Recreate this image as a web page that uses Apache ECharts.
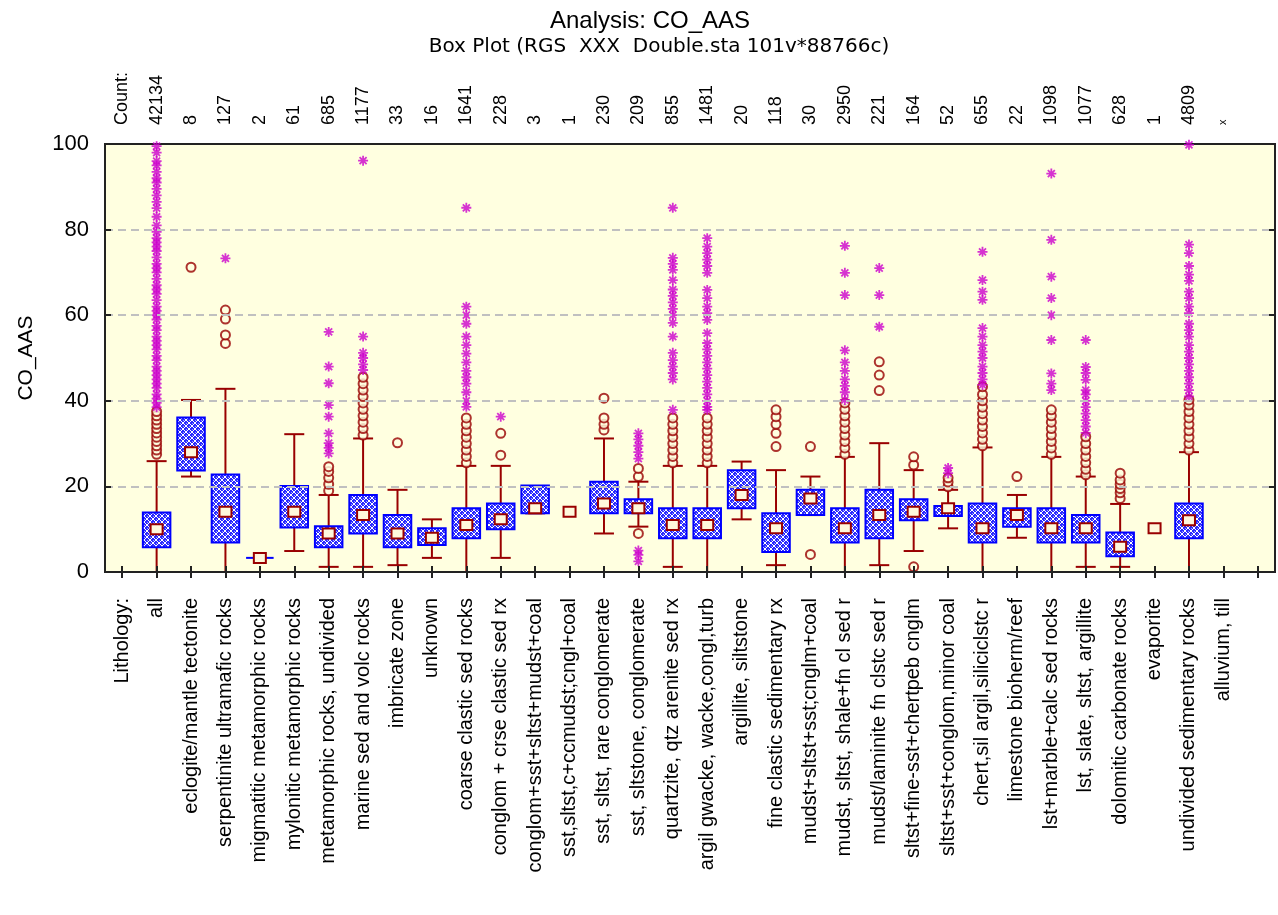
<!DOCTYPE html>
<html><head><meta charset="utf-8">
<script src="https://cdn.jsdelivr.net/npm/echarts@6/dist/echarts.min.js"></script>
<style>html,body{margin:0;padding:0;background:#fff}#chart{width:1278px;height:915px}</style>
</head><body><div id="chart"></div>
<script>
const categories = ['all','eclogite/mantle tectonite','serpentinite ultramafic rocks','migmatitic metamorphic rocks','mylonitic metamorphic rocks','metamorphic rocks, undivided','marine sed and volc rocks','imbricate zone','unknown','coarse clastic sed rocks','conglom + crse clastic sed rx','conglom+sst+sltst+mudst+coal','sst,sltst,c+ccmudst;cngl+coal','sst, sltst, rare conglomerate','sst, sltstone, conglomerate','quartzite, qtz arenite sed rx','argil gwacke, wacke,congl,turb','argillite, siltstone','fine clastic sedimentary rx','mudst+sltst+sst;cnglm+coal','mudst, sltst, shale+fn cl sed r','mudst/laminite fn clstc sed r','sltst+fine-sst+chertpeb cnglm','sltst+sst+conglom,minor coal','chert,sil argil,siliciclstc r','limestone bioherm/reef','lst+marble+calc sed rocks','lst, slate, sltst, argillite','dolomitic carbonate rocks','evaporite','undivided sedimentary rocks','alluvium, till'];
const counts = ['42134','8','127','2','61','685','1177','33','16','1641','228','3','1','230','209','855','1481','20','118','30','2950','221','164','52','655','22','1098','1077','628','1','4809','x'];
const whiskerLow  = [0,22.3,0,3.3,4.9,1.2,1.2,1.6,3.3,0,3.3,13.7,14.1,9.0,10.6,1.2,0,12.3,1.6,13.3,0,1.6,4.9,10.2,0,8.0,0,1.2,1.2,10.2,0,null];
const q1          = [5.8,23.7,6.9,3.3,10.4,5.8,9.0,5.8,6.3,7.9,10.0,13.7,null,13.7,13.7,7.9,7.9,14.9,4.7,13.3,6.9,7.9,12.1,13.1,6.9,10.6,6.9,6.9,3.7,null,7.9,null];
const median      = [10.0,28.0,14.1,3.3,14.1,9.0,13.3,9.0,8.0,11.0,12.3,14.9,14.1,16.0,14.9,11.0,11.0,18.0,10.2,17.2,10.2,13.3,14.1,14.9,10.2,13.3,10.2,10.2,5.9,10.2,12.1,null];
const q3          = [13.9,36.1,22.8,3.3,20.1,10.7,18.0,13.3,10.2,14.9,16.0,20.2,null,21.1,17.0,14.9,14.9,23.8,13.7,19.2,14.9,19.2,17.0,15.4,16.0,14.9,14.9,13.3,9.2,null,16.0,null];
const whiskerHigh = [25.9,40.2,42.8,3.3,32.2,18.0,31.2,19.2,12.3,24.8,24.8,20.2,14.1,31.2,21.1,24.8,24.8,25.8,23.8,22.3,26.9,30.1,23.8,19.2,29.1,18.0,26.9,22.3,15.9,10.2,28.0,null];
const outliers = [
  [27.5,28.5,29.5,30.5,31.5,32.5,33.5,34.5,35.5,36.5,37.5],
  [71.2],
  [53.4,55.4,59.1,61.2],
  [],
  [],
  [19.0,20.5,22.0,23.5,24.6],
  [32.0,33.5,35.0,36.5,38.0,39.5,41.0,42.5,44.0,45.5],
  [30.2],
  [],
  [25.5,27.0,28.5,30.0,31.5,33.0,34.5,36.0],
  [27.3,32.4],
  [],
  [],
  [33.2,34.5,36.0,40.6],
  [22.3,24.2,9.0],
  [25.5,27.0,28.5,30.0,31.5,33.0,34.5,36.0],
  [25.5,27.0,28.5,30.0,31.5,33.0,34.5,36.0],
  [],
  [29.3,32.4,34.5,36.3,37.9],
  [29.3,4.1],
  [27.5,29.0,30.5,32.0,33.5,35.0,36.5,38.0,39.5],
  [42.4,46.0,49.1],
  [25.0,26.9,1.2],
  [19.9,21.0,22.0],
  [29.5,31.0,32.5,34.0,35.5,37.0,38.5,40.0,41.5,43.3],
  [22.3],
  [27.5,29.0,30.5,32.0,33.5,35.0,36.5,37.9],
  [22.7,24.0,25.5,27.0,28.5,30.0,31.6],
  [17.2,18.5,19.5,20.5,21.5,23.1],
  [],
  [28.5,30.0,31.5,33.0,34.5,36.0,37.5,39.0,40.2],
  []
];
const extremes = [
  [38.5,39.5,40.5,41.5,43,44,45,46,47,48,49.5,50.5,52,53,54,55,56.5,57.5,59,60,61,62,63.5,65,66,67,68.5,70,71,72,73.5,75,76,77,78,79.5,81,83,85,86.5,88,89.5,91,92,93.5,95,96,98,99.5],
  [],
  [73.3],
  [],
  [],
  [27.7,29.0,30.1,32.4,36.3,39.0,44.1,48.0,56.1],
  [47.2,48.5,50.0,51.2,55.0,96.1],
  [],
  [],
  [38.6,40,42,44,45.5,47,49,51,53,55,58,60,62,85.1],
  [36.3],
  [],
  [],
  [],
  [26.5,28.0,29.5,31.0,32.4,5.0,4.0,2.5],
  [37.9,45,46.5,48,49.5,51.2,55,58.2,60,61.5,63,64.5,66,68.2,70.6,72,73.4,85.1],
  [37.9,38.6,40,41.5,43,44.5,46,47.5,49,50.5,52,53.5,55.8,58.9,60.5,62,64,65.9,69.9,71.5,73,74.5,76,78],
  [],
  [],
  [],
  [40.2,42,43.5,45,47,49,51.8,64.7,69.9,76.2],
  [57.3,64.7,71.0],
  [],
  [23.1,24.3],
  [43.7,45,46.5,48,50,51.5,53,55,57,63.6,65.5,68.2,74.8],
  [],
  [42.5,44,46.4,54.2,60.0,64.0,69.0,77.6,93.1],
  [32.5,34,35.5,37,38.5,40,41.5,42.5,44.9,46.5,47.9,54.2],
  [],
  [],
  [41,42.5,44,45.5,47,48.5,50,51.5,53,55,56.5,58,60.5,62,64,65.5,68,69.5,71.5,74.5,76.5,99.8],
  []
];
const yMin = 0, yMax = 100, yInterval = 20;

const xLabels = ['Lithology:'].concat(categories, [' ']);
const topLabels = ['Count:'].concat(counts, [' ']);

// crosshatch pattern for boxes
const pc = document.createElement('canvas');
pc.width = 6; pc.height = 6;
const g = pc.getContext('2d');
g.fillStyle = '#2a2aff'; g.fillRect(0, 0, 6, 6);
g.fillStyle = '#ffffff';
for (let i = 0; i < 6; i++) { g.fillRect(i, i, 1, 1); g.fillRect(5 - i, i, 1, 1); }
g.fillStyle = '#9a9aff';
g.fillRect(3, 0, 1, 1); g.fillRect(0, 3, 1, 1);

const boxData = [];
categories.forEach((c, i) => {
  if (median[i] == null) return;
  boxData.push([i + 1, whiskerLow[i], q1[i] == null ? median[i] : q1[i], median[i], q3[i] == null ? median[i] : q3[i], whiskerHigh[i], q1[i] == null ? 0 : 1]);
});
const outData = [], extData = [];
categories.forEach((c, i) => {
  outliers[i].forEach(v => outData.push([i + 1, v]));
  extremes[i].forEach(v => extData.push([i + 1, v]));
});

const RED = '#990000';
function renderBox(params, api) {
  const x = api.value(0);
  const lo = api.coord([x, api.value(1)]);
  const b1 = api.coord([x, api.value(2)]);
  const md = api.coord([x, api.value(3)]);
  const b3 = api.coord([x, api.value(4)]);
  const hi = api.coord([x, api.value(5)]);
  const hasBox = api.value(6) === 1;
  const slot = api.size([1, 0])[0];
  const bw = slot * 0.8;
  const cap = 10;
  const cx = md[0];
  const ch = [];
  const ls = { stroke: RED, lineWidth: 2 };
  if (hi[1] < b3[1] - 0.5) {
    ch.push({ type: 'line', shape: { x1: cx, y1: hi[1], x2: cx, y2: b3[1] }, style: ls });
    ch.push({ type: 'line', shape: { x1: cx - cap, y1: hi[1], x2: cx + cap, y2: hi[1] }, style: ls });
  }
  if (lo[1] > b1[1] + 0.5) {
    ch.push({ type: 'line', shape: { x1: cx, y1: b1[1], x2: cx, y2: lo[1] }, style: ls });
    ch.push({ type: 'line', shape: { x1: cx - cap, y1: lo[1], x2: cx + cap, y2: lo[1] }, style: ls });
  } else if (hasBox && api.value(1) === api.value(2) && api.value(3) !== api.value(2)) {
    ch.push({ type: 'line', shape: { x1: cx - cap, y1: lo[1], x2: cx + cap, y2: lo[1] }, style: ls });
  }
  if (hasBox) {
    const h = b1[1] - b3[1];
    if (h > 1) {
      ch.push({ type: 'rect', shape: { x: cx - bw / 2, y: b3[1], width: bw, height: h },
        style: { fill: { image: pc, repeat: 'repeat' }, stroke: '#0000ff', lineWidth: 2 } });
    } else {
      ch.push({ type: 'line', shape: { x1: cx - bw / 2, y1: b1[1], x2: cx + bw / 2, y2: b1[1] }, style: { stroke: '#0000ff', lineWidth: 2 } });
    }
  }
  ch.push({ type: 'rect', shape: { x: cx - 6, y: md[1] - 5, width: 12, height: 10 },
    style: { fill: '#fff8dc', stroke: RED, lineWidth: 2 } });
  return { type: 'group', children: ch };
}

const FONT = 'Liberation Sans';
const chart = echarts.init(document.getElementById('chart'), null, { renderer: 'canvas' });
chart.setOption({
  animation: false,
  backgroundColor: '#ffffff',
  title: [
    { text: 'Analysis: CO_AAS', left: 645, top: 4, textAlign: 'center',
      textStyle: { fontFamily: FONT, fontSize: 24, fontWeight: 'normal', color: '#000' } },
    { text: 'Box Plot (RGS  XXX  Double.sta 101v*88766c)', left: 654, top: 32, textAlign: 'center',
      textStyle: { fontFamily: 'DejaVu Sans', fontSize: 20, fontWeight: 'normal', color: '#000' } }
  ],
  grid: { left: 105, right: 3, top: 144, bottom: 343, show: true, backgroundColor: '#ffffe0', borderColor: '#222', borderWidth: 2 },
  xAxis: [
    { type: 'category', data: xLabels, position: 'bottom', boundaryGap: true, z: 10,
      axisLine: { show: true, lineStyle: { color: '#222', width: 2 } },
      axisTick: { show: true, inside: true, alignWithLabel: true, interval: 0, length: 6, lineStyle: { color: '#222', width: 2 } },
      axisLabel: { rotate: 90, interval: 0, margin: 26, fontFamily: FONT, fontSize: 20, color: '#000' },
      splitLine: { show: false } },
    { type: 'category', data: topLabels, position: 'top', boundaryGap: true, z: 10,
      axisLine: { show: true, lineStyle: { color: '#222', width: 2 } },
      axisTick: { show: true, inside: true, alignWithLabel: true, interval: 0, length: 6, lineStyle: { color: '#222', width: 2 } },
      axisLabel: { rotate: 90, interval: 0, margin: 19, fontFamily: FONT, fontSize: 18, color: '#000',
        formatter: v => v === 'x' ? '{s|x}' : v, rich: { s: { fontSize: 11, fontFamily: FONT } } },
      splitLine: { show: false } }
  ],
  yAxis: [
    { type: 'value', min: yMin, max: yMax, interval: yInterval, position: 'left', z: 10,
      name: 'CO_AAS', nameLocation: 'middle', nameGap: 68,
      nameTextStyle: { fontFamily: FONT, fontSize: 21, color: '#000' },
      axisLine: { show: true, lineStyle: { color: '#222', width: 2 } },
      axisTick: { show: true, inside: true, length: 6, lineStyle: { color: '#222', width: 2 } },
      axisLabel: { margin: 16, fontFamily: FONT, fontSize: 22, color: '#000' },
      splitLine: { show: true, showMinLine: false, showMaxLine: false, lineStyle: { color: '#c0c0c0', width: 2, type: [8, 5] } } },
    { type: 'value', min: yMin, max: yMax, interval: yInterval, position: 'right', z: 10,
      axisLine: { show: true, lineStyle: { color: '#222', width: 2 } },
      axisTick: { show: true, inside: true, length: 6, lineStyle: { color: '#222', width: 2 } },
      axisLabel: { show: false }, splitLine: { show: false } }
  ],
  series: [
    { type: 'custom', xAxisIndex: 0, yAxisIndex: 0, renderItem: renderBox, data: boxData,
      encode: { x: 0, y: [1, 2, 3, 4, 5] }, z: 2, clip: false },
    { type: 'scatter', xAxisIndex: 0, yAxisIndex: 0, data: outData, symbol: 'circle', symbolSize: 9,
      itemStyle: { color: '#ffffe0', borderColor: RED, borderWidth: 2 }, z: 3 },
    { type: 'scatter', xAxisIndex: 0, yAxisIndex: 0, data: extData,
      symbol: 'path://M0,5L10,5M5,0L5,10M1.5,1.5L8.5,8.5M8.5,1.5L1.5,8.5', symbolSize: [10, 10],
      itemStyle: { color: '#cc00cc', borderColor: '#cc00cc', borderWidth: 1.8 }, z: 4 }
  ]
});
</script></body></html>
